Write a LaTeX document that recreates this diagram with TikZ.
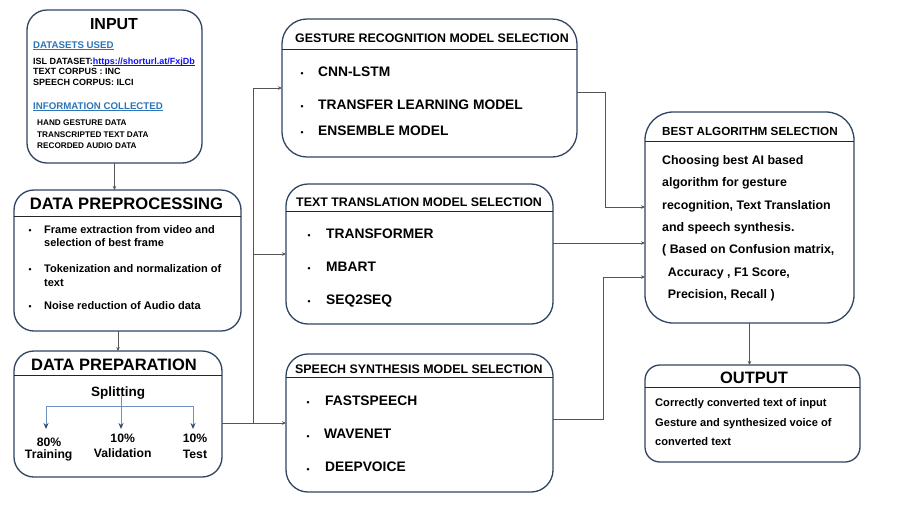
\documentclass[tikz,border=0pt]{standalone}
\usepackage{fontspec}
\setmainfont{Liberation Sans}
\usetikzlibrary{arrows.meta}
\definecolor{boxc}{HTML}{2F4561}
\definecolor{conc}{HTML}{555555}
\definecolor{hdblue}{HTML}{2E75B6}
\definecolor{lnk}{HTML}{1010F0}
\definecolor{splc}{HTML}{2F4A70}
\definecolor{splline}{HTML}{6E8FC0}
\newcommand\fsz[1]{\fontsize{#1}{#1}\selectfont\bfseries}
\newcommand\ulx[1]{\setbox0\hbox{#1}\rlap{\rule[-1.3pt]{\wd0}{0.6pt}}\box0}
\begin{document}
\begin{tikzpicture}[x=1pt,y=-1pt,
 box/.style={draw=boxc,line width=1.3pt,inner sep=0pt,outer sep=0pt,fill=white},
 divl/.style={draw=black!85,line width=0.9pt},
 conn/.style={draw=conc,line width=0.8pt,-{Stealth[length=4pt,width=3.5pt]}},
 sline/.style={draw=splline,line width=1pt},
 sarr/.style={draw=splline,line width=1pt,-{Stealth[length=6pt,width=5pt,color=splc]}},
 t/.style={inner sep=0pt,anchor=base west},
 tc/.style={inner sep=0pt,anchor=base},
 bul/.style={inner sep=0pt,anchor=center,font=\fsz{8.5},yshift=-1.5pt},
]
\useasboundingbox (0,0) rectangle (900,515);
% boxes
\node[box,rounded corners=20pt,minimum width=175pt,minimum height=153pt] (inp) at (114.5,86.5) {};
\node[box,rounded corners=20pt,minimum width=227pt,minimum height=141pt] (prep) at (127.5,260.5) {};
\node[box,rounded corners=20pt,minimum width=208pt,minimum height=126pt] (prepn) at (118,414) {};
\node[box,rounded corners=25pt,minimum width=295pt,minimum height=138pt] (ges) at (429.5,88) {};
\node[box,rounded corners=22pt,minimum width=267pt,minimum height=140pt] (txt) at (419.5,254) {};
\node[box,rounded corners=22pt,minimum width=267pt,minimum height=138pt] (sp) at (419.5,423) {};
\node[box,rounded corners=28pt,minimum width=209pt,minimum height=211pt] (best) at (749.5,217.5) {};
\node[box,rounded corners=15pt,minimum width=215pt,minimum height=97pt] (out) at (752.5,413.5) {};
% dividers
\draw[divl] (14,216) -- (241,216);
\draw[divl] (14,375) -- (222,375);
\draw[divl] (282,49.3) -- (577,49.3);
\draw[divl] (286,211.7) -- (553,211.7);
\draw[divl] (286,377.3) -- (553,377.3);
\draw[divl] (645,141.7) -- (854,141.7);
\draw[divl] (645,387.3) -- (860,387.3);
% INPUT text
\node[tc,font=\fsz{16}] (inT) at (114,29) {INPUT};
\node[t,font=\fsz{9.7},text=hdblue] (dsu) at (33,48.5) {\ulx{DATASETS USED}};
\node[t,font=\fsz{9}] (isl) at (33,64) {ISL DATASET:\textcolor{lnk}{\ulx{https://shorturl.at/FxjDb}}};
\node[t,font=\fsz{9}] (tcp) at (33,74.5) {TEXT CORPUS : INC};
\node[t,font=\fsz{9}] (scp) at (33,85) {SPEECH CORPUS: ILCI};
\node[t,font=\fsz{9.7},text=hdblue] (inf) at (33,109) {\ulx{INFORMATION COLLECTED}};
\node[t,font=\fsz{8.2}] (hg) at (37,125) {HAND GESTURE DATA};
\node[t,font=\fsz{8.2}] (tt) at (37,137) {TRANSCRIPTED TEXT DATA};
\node[t,font=\fsz{8.2}] (ra) at (37,148) {RECORDED AUDIO DATA};
% DATA PREPROCESSING
\node[tc,font=\fsz{16.6}] (prT) at (126.5,209) {DATA PREPROCESSING};
\node[bul] (pb1) at (30,229.5) {•};
\node[bul] (pb2) at (30,268.5) {•};
\node[bul] (pb3) at (30,305.5) {•};
\node[t,font=\fsz{11}] (p1a) at (44,233) {Frame extraction from video and};
\node[t,font=\fsz{11}] (p1b) at (44,246) {selection of best frame};
\node[t,font=\fsz{11}] (p2a) at (44,272) {Tokenization and normalization of};
\node[t,font=\fsz{11}] (p2b) at (44,286) {text};
\node[t,font=\fsz{11}] (p3a) at (44,309) {Noise reduction of Audio data};
% DATA PREPARATION
\node[tc,font=\fsz{16.5}] (pnT) at (114,370) {DATA PREPARATION};
\node[tc,font=\fsz{13.5}] (split) at (118,396.7) {Splitting};
\node[tc,font=\fsz{12.2}] (l80) at (49,446) {80\%};
\node[tc,font=\fsz{12.2}] (ltr) at (48.7,458) {Training};
\node[tc,font=\fsz{12.2}] (l10a) at (122.7,442) {10\%};
\node[tc,font=\fsz{12.2}] (lva) at (122.7,457.7) {Validation};
\node[tc,font=\fsz{12.2}] (l10b) at (195,442) {10\%};
\node[tc,font=\fsz{12.2}] (lte) at (195,458) {Test};
\coordinate (h1) at (46,406);
\coordinate (h2) at (121,406);
\coordinate (h3) at (193,406);
\coordinate (a1) at (46,429);
\coordinate (a2) at (121,429);
\coordinate (a3) at (193,429);
\draw[sline] (121,396) -- (h2);
\draw[sline] (h1) -- (h3);
\draw[sarr] (h1) -- (a1);
\draw[sarr] (h2) -- (a2);
\draw[sarr] (h3) -- (a3);
% GESTURE
\node[t,font=\fsz{12.4}] (gT) at (295,42) {GESTURE RECOGNITION MODEL SELECTION};
\node[bul] (gb1) at (302,73) {•};
\node[bul] (gb2) at (302,106) {•};
\node[bul] (gb3) at (302,132) {•};
\node[t,font=\fsz{13.8}] (g1) at (318,76) {CNN-LSTM};
\node[t,font=\fsz{13.8}] (g2) at (318,109) {TRANSFER LEARNING MODEL};
\node[t,font=\fsz{13.8}] (g3) at (318,135) {ENSEMBLE MODEL};
% TEXT
\node[t,font=\fsz{12.4}] (tT) at (296,206) {TEXT TRANSLATION MODEL SELECTION};
\node[bul] (tb1) at (309,235) {•};
\node[bul] (tb2) at (309,268) {•};
\node[bul] (tb3) at (309,301) {•};
\node[t,font=\fsz{13.8}] (t1) at (326,238) {TRANSFORMER};
\node[t,font=\fsz{13.8}] (t2) at (326,271) {MBART};
\node[t,font=\fsz{13.8}] (t3) at (326,304) {SEQ2SEQ};
% SPEECH
\node[t,font=\fsz{12.4}] (sT) at (295,373.3) {SPEECH SYNTHESIS MODEL SELECTION};
\node[bul] (sb1) at (308,402) {•};
\node[bul] (sb2) at (308,435.5) {•};
\node[bul] (sb3) at (308,468.5) {•};
\node[t,font=\fsz{13.8}] (s1) at (325,405) {FASTSPEECH};
\node[t,font=\fsz{13.8}] (s2) at (324,438.5) {WAVENET};
\node[t,font=\fsz{13.8}] (s3) at (325,471.5) {DEEPVOICE};
% BEST
\node[t,font=\fsz{11.7}] (bT) at (662,135.3) {BEST ALGORITHM SELECTION};
\node[t,font=\fsz{12.4}] (b1) at (662,164.3) {Choosing best AI based};
\node[t,font=\fsz{12.4}] (b2) at (662,186.7) {algorithm for gesture};
\node[t,font=\fsz{12.4}] (b3) at (662,209.1) {recognition, Text Translation};
\node[t,font=\fsz{12.4}] (b4) at (662,231.5) {and speech synthesis.};
\node[t,font=\fsz{12.4}] (b5) at (662,253.9) {( Based on Confusion matrix,};
\node[t,font=\fsz{12.4}] (b6) at (667.7,276.3) {Accuracy , F1 Score,};
\node[t,font=\fsz{12.4}] (b7) at (667.7,298.7) {Precision, Recall )};
% OUTPUT
\node[tc,font=\fsz{16.5}] (oT) at (754,383.3) {OUTPUT};
\node[t,font=\fsz{11.1}] (o1) at (655,406) {Correctly converted text of input};
\node[t,font=\fsz{11.1}] (o2) at (655,426) {Gesture and synthesized voice of};
\node[t,font=\fsz{11.1}] (o3) at (655,445.7) {converted text};
% connectors
\draw[conn] (inp.south) -- (inp.south |- prep.north);
\draw[conn] (prepn.north |- prep.south) -- (prepn.north);
\coordinate (jn) at (253,423);
\draw[conn] (prepn.east |- sp.west) -- (sp.west);
\draw[conn] (jn) |- (ges.west);
\draw[conn] (jn |- txt.west) -- (txt.west);
\coordinate (gq) at (605,207);
\draw[conn] ([yshift=-4pt]ges.east) -| (gq) -- (best.west |- gq);
\coordinate (tq) at (600,243);
\draw[conn] (txt.east |- tq) -- (best.west |- tq);
\coordinate (sq) at (603,277);
\draw[conn] ([yshift=4pt]sp.east) -| (sq) -- (best.west |- sq);
\draw[conn] (best.south) -- (best.south |- out.north);
\end{tikzpicture}
\end{document}
